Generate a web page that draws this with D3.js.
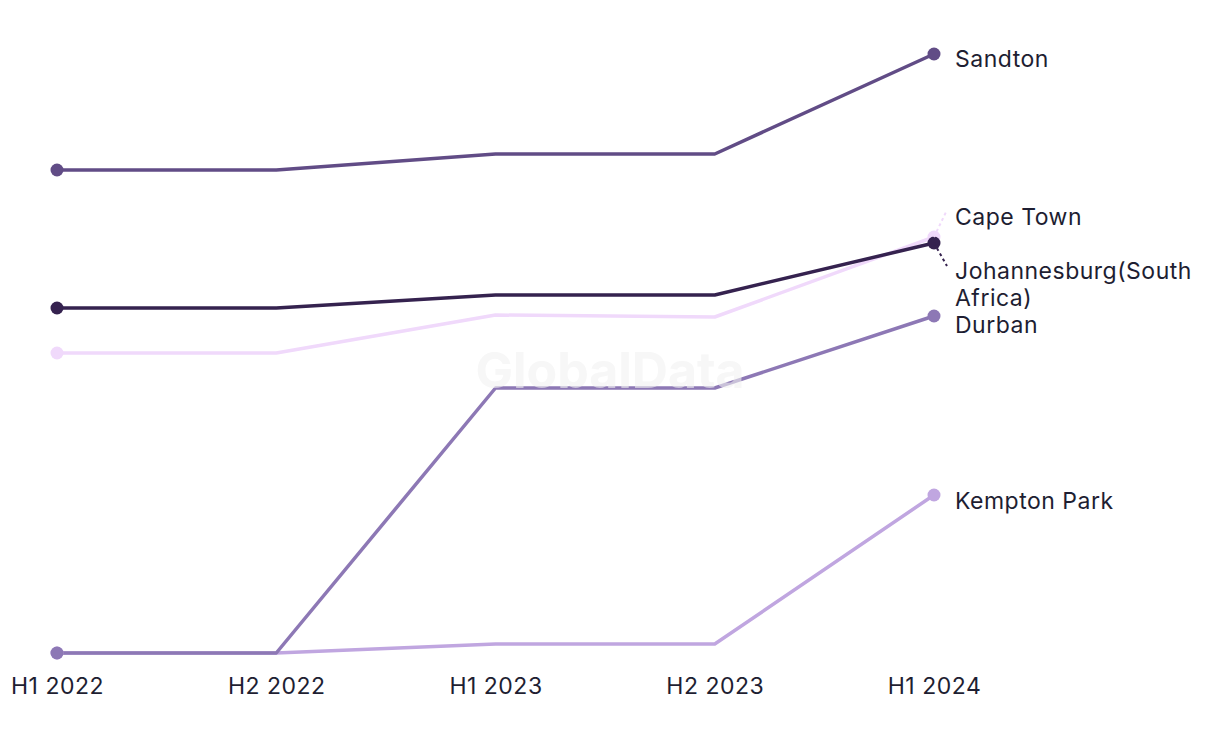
<!DOCTYPE html>
<html><head><meta charset="utf-8">
<script src="https://cdn.jsdelivr.net/npm/d3@7"></script>
<style>body{margin:0;background:#fff;} svg{display:block;font-family:Inter,"Noto Sans",sans-serif;}</style>
</head><body><svg id="c" width="1220" height="744"></svg>
<script>
const periods = ["H1 2022","H2 2022","H1 2023","H2 2023","H1 2024"];
const sandton = [48.3,48.3,49.9,49.9,59.9];
const capeTown = [30.0,30.0,33.8,33.6,41.6];
const johannesburg = [34.5,34.5,35.8,35.8,41.0];
const durban = [0,0,26.5,26.5,33.7];
const kemptonPark = [0,0,0.9,0.9,15.8];
const seriesNames = ["Kempton Park","Cape Town","Durban","Johannesburg(South Africa)","Sandton"];
const seriesValues = [kemptonPark,capeTown,durban,johannesburg,sandton];
const seriesColors = ["#c0a6e0","#f0d9fb","#8d78b5","#35224f","#614c86"];

const svg = d3.select("#c");
const x = d3.scalePoint().domain(periods).range([57,934]);
const y = d3.scaleLinear().domain([0,59.9]).range([653,54]);

const series = seriesNames.map((n,i)=>({name:n,values:seriesValues[i],color:seriesColors[i]}));
const line = d3.line().x((d,i)=>x(periods[i])).y(d=>y(d));

const g = svg.append("g");
series.forEach(s=>{
  g.append("path").attr("d",line(s.values)).attr("fill","none")
   .attr("stroke",s.color).attr("stroke-width",3.5).attr("stroke-linejoin","round");
});
series.forEach(s=>{
  g.append("circle").attr("cx",x(periods[0])).attr("cy",y(s.values[0])).attr("r",6.5).attr("fill",s.color);
  g.append("circle").attr("cx",x(periods[4])).attr("cy",y(s.values[4])).attr("r",6.5).attr("fill",s.color);
});

// watermark
svg.append("text").attr("x",610).attr("y",388).attr("text-anchor","middle")
  .attr("font-size",50).attr("font-weight",700).attr("fill","#f2f2f2").attr("opacity",0.6)
  .text("GlobalData");

// axis labels
const ax = svg.append("g").attr("transform","translate(0,694)")
  .call(d3.axisBottom(x).tickSize(0).tickPadding(0));
ax.select(".domain").remove();
ax.selectAll("text").attr("font-size",23).attr("letter-spacing",0.5).attr("fill","#1e1e32")
  .attr("font-family","Inter,'Noto Sans',sans-serif").attr("dy","0");

// end labels (label positions adjusted to avoid overlap)
const labelY = {"Sandton":67,"Cape Town":225,"Johannesburg(South Africa)":279,"Durban":333,"Kempton Park":509};
const lbl = svg.append("g");
series.forEach(s=>{
  const ey = y(s.values[4]);
  const ly = labelY[s.name];
  if (Math.abs(ly-8-ey)>10){
    lbl.append("line").attr("x1",x(periods[4])).attr("y1",ey)
      .attr("x2",947).attr("y2",ly < ey ? ly-15 : ly-13)
      .attr("stroke",s.color).attr("stroke-width",2).attr("stroke-dasharray","3,3");
  }
  const t = lbl.append("text").attr("x",955).attr("y",ly).attr("font-size",23)
    .attr("letter-spacing",0.5).attr("fill","#1e1e32");
  if (s.name==="Johannesburg(South Africa)"){
    t.append("tspan").attr("x",955).text("Johannesburg(South");
    t.append("tspan").attr("x",955).attr("dy",27).text("Africa)");
  } else t.text(s.name);
});
</script></body></html>
